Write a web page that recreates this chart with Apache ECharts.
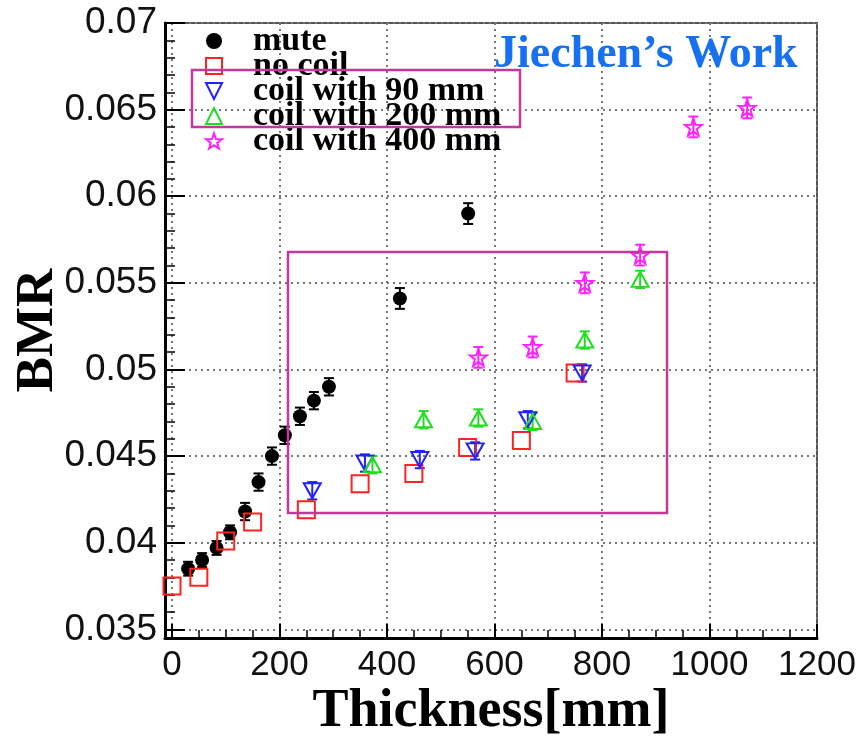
<!DOCTYPE html>
<html>
<head>
<meta charset="utf-8">
<script src="https://cdn.jsdelivr.net/npm/echarts@6/dist/echarts.min.js"></script>
<style>
  html, body { margin: 0; padding: 0; background: #fff; }
  #bmr { width: 866px; height: 739px; }
</style>
</head>
<body>
<div id="bmr"></div>
<script type="text/javascript">
// BMR vs thickness
var xTicks = [0, 200, 400, 600, 800, 1000, 1200]
var yTicks = [0.035, 0.04, 0.045, 0.05, 0.055, 0.06, 0.065, 0.07]

var muteX = [30, 56, 83, 108, 136, 161, 186, 210, 238, 264, 292, 424, 551]
var muteY = [0.0385, 0.0390, 0.0397, 0.0406, 0.0418, 0.0435, 0.0450, 0.0462, 0.0473, 0.0482, 0.0490, 0.0541, 0.0590]
var muteErr = [0.0004, 0.0004, 0.0004, 0.0004, 0.0005, 0.0005, 0.0005, 0.0005, 0.0005, 0.0005, 0.0005, 0.0006, 0.0006]

var noCoilX = [0, 50, 100, 150, 250, 350, 450, 550, 650, 750]
var noCoilY = [0.0375, 0.0380, 0.0401, 0.0412, 0.0419, 0.0434, 0.0440, 0.0455, 0.0459, 0.0498]
// error bars of the squares stay inside the marker, so none are drawn
var noCoilErr = [0, 0, 0, 0, 0, 0, 0, 0, 0, 0]

var coil90X = [261, 359, 461, 564, 662, 763]
var coil90Y = [0.0430, 0.0446, 0.0448, 0.0453, 0.0471, 0.0498]
var coil90Err = [0.0005, 0.0005, 0.0005, 0.0005, 0.0005, 0.0005]

var coil200X = [373, 468, 570, 671, 768, 871]
var coil200Y = [0.0445, 0.0471, 0.0472, 0.0470, 0.0517, 0.0552]
var coil200Err = [0.0005, 0.0005, 0.0005, 0.0005, 0.0005, 0.0005]

var coil400X = [570, 671, 768, 871, 970, 1070]
var coil400Y = [0.0507, 0.0513, 0.0550, 0.0566, 0.0640, 0.0651]
var coil400Err = [0.0006, 0.0006, 0.0006, 0.0006, 0.0006, 0.0006]

var starPath = 'path://M50 0 L61.76 33.82 L97.55 34.55 L69.02 56.18 L79.39 90.45 L50 70 L20.61 90.45 L30.98 56.18 L2.45 34.55 L38.24 33.82 Z'
var downTriPath = 'path://M0 0 L100 0 L50 100 Z'

function pairs(xs, ys) {
    return xs.map(function (x, i) { return [x, ys[i]] })
}

function markerSeries(name, xs, ys, symbol, size, color, open, rotate) {
    return {
        name: name,
        type: 'scatter',
        data: pairs(xs, ys),
        symbol: symbol,
        symbolSize: size,
        symbolRotate: rotate || 0,
        z: 4,
        itemStyle: open ? {
            color: 'rgba(0,0,0,0)',
            borderColor: color,
            borderWidth: 2,
            opacity: 1
        } : {
            color: color,
            opacity: 1
        }
    }
}

function errorSeries(name, xs, ys, errs, color) {
    return {
        name: name + ' err',
        type: 'custom',
        z: 3,
        silent: true,
        data: xs.map(function (x, i) { return [x, ys[i], errs[i]] }),
        encode: { x: 0, y: 1 },
        renderItem: function (params, api) {
            var x = api.value(0), y = api.value(1), e = api.value(2)
            if (!e) {
                return null
            }
            var hi = api.coord([x, y + e])
            var lo = api.coord([x, y - e])
            var st = { stroke: color, lineWidth: 2 }
            return {
                type: 'group',
                children: [
                    { type: 'line', shape: { x1: hi[0], y1: hi[1], x2: lo[0], y2: lo[1] }, style: st },
                    { type: 'line', shape: { x1: hi[0] - 5, y1: hi[1], x2: hi[0] + 5, y2: hi[1] }, style: st },
                    { type: 'line', shape: { x1: lo[0] - 5, y1: lo[1], x2: lo[0] + 5, y2: lo[1] }, style: st }
                ]
            }
        }
    }
}

var red = '#f22', blue = '#22f', green = '#2d2', magenta = '#f2f', boxColor = '#c2389b'

var option = {
    backgroundColor: '#fff',
    animation: false,
    grid: {
        left: 165,
        right: 49,
        top: 23,
        bottom: 101,
        outerBoundsMode: 'none',
        show: true,
        borderColor: '#555',
        borderWidth: 2
    },
    legend: {
        orient: 'vertical',
        left: 205,
        top: 24,
        padding: 0,
        itemGap: -9,
        itemWidth: 16,
        itemHeight: 16,
        data: [
            'mute',
            'no coil',
            { name: 'coil with 90 mm', icon: downTriPath },
            'coil with 200 mm',
            'coil with 400 mm'
        ],
        textStyle: {
            fontFamily: 'Liberation Serif',
            fontWeight: 'bold',
            fontSize: 34,
            padding: [0, 0, 0, 26],
            color: '#000'
        }
    },
    xAxis: {
        type: 'value',
        min: -13,
        max: 1200,
        splitNumber: 6,
        name: 'Thickness[mm]',
        nameLocation: 'middle',
        nameGap: 47,
        nameMoveOverlap: false,
        nameTextStyle: {
            fontFamily: 'Liberation Serif',
            fontWeight: 'bold',
            fontSize: 54,
            color: '#000'
        },
        axisLine: { onZero: false, lineStyle: { color: '#000', width: 3 } },
        axisTick: { inside: true, length: 14, customValues: xTicks, lineStyle: { color: '#000', width: 2 } },
        minorTick: { show: true, splitNumber: 4, length: 8, lineStyle: { color: '#000', width: 1.5 } },
        axisLabel: {
            customValues: xTicks,
            margin: 10,
            fontFamily: 'Liberation Sans',
            fontSize: 35,
            color: '#111',
            formatter: function (v) { return String(v) }
        },
        splitLine: { show: true, lineStyle: { color: '#777', width: 2, type: [2, 4] } }
    },
    yAxis: {
        type: 'value',
        min: 0.0345,
        max: 0.07,
        splitNumber: 7,
        name: 'BMR',
        nameLocation: 'middle',
        nameGap: 100,
        nameMoveOverlap: false,
        nameTextStyle: {
            fontFamily: 'Liberation Serif',
            fontWeight: 'bold',
            fontSize: 53,
            color: '#000'
        },
        axisLine: { onZero: false, lineStyle: { color: '#000', width: 3 } },
        axisTick: { inside: true, length: 20, customValues: yTicks, lineStyle: { color: '#000', width: 2 } },
        minorTick: { show: true, splitNumber: 5, length: 10, lineStyle: { color: '#000', width: 1.5 } },
        axisLabel: {
            customValues: yTicks,
            margin: 8,
            fontFamily: 'Liberation Sans',
            fontSize: 37,
            color: '#111'
        },
        splitLine: { show: true, lineStyle: { color: '#777', width: 2, type: [2, 4] } }
    },
    graphic: [
        {
            type: 'text',
            left: 494,
            top: 32,
            z: 10,
            style: {
                text: 'Jiechen\u2019s Work',
                fontFamily: 'Liberation Serif',
                fontWeight: 'bold',
                fontSize: 46,
                fill: '#1670f0'
            }
        },
        {
            type: 'rect',
            z: 10,
            shape: { x: 192, y: 70, width: 328, height: 57 },
            style: { fill: 'none', stroke: boxColor, lineWidth: 2.5 }
        },
        {
            type: 'rect',
            z: 10,
            shape: { x: 288, y: 252, width: 379, height: 261 },
            style: { fill: 'none', stroke: boxColor, lineWidth: 2.5 }
        }
    ],
    series: [
        errorSeries('mute', muteX, muteY, muteErr, '#000'),
        errorSeries('no coil', noCoilX, noCoilY, noCoilErr, red),
        errorSeries('coil with 90 mm', coil90X, coil90Y, coil90Err, blue),
        errorSeries('coil with 200 mm', coil200X, coil200Y, coil200Err, green),
        errorSeries('coil with 400 mm', coil400X, coil400Y, coil400Err, magenta),
        markerSeries('mute', muteX, muteY, 'circle', 14, '#000', false),
        markerSeries('no coil', noCoilX, noCoilY, 'rect', 17, red, true),
        markerSeries('coil with 90 mm', coil90X, coil90Y, 'triangle', [17, 15], blue, true, 180),
        markerSeries('coil with 200 mm', coil200X, coil200Y, 'triangle', [17, 15], green, true),
        markerSeries('coil with 400 mm', coil400X, coil400Y, starPath, 17, magenta, true)
    ]
}

var myChart = echarts.init(document.getElementById('bmr'))
myChart.setOption(option)
</script>
</body>
</html>
